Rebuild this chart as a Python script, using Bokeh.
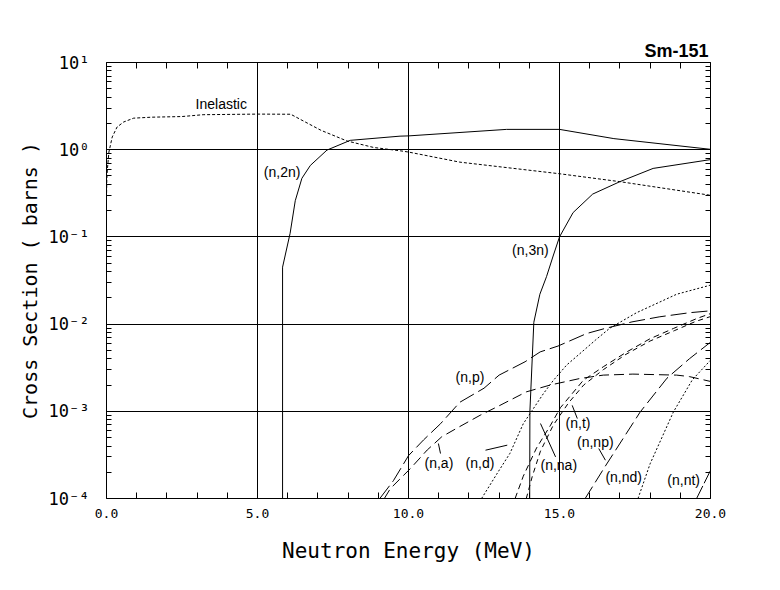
from bokeh.plotting import figure
from bokeh.models import LinearAxis, LogAxis, FixedTicker, CustomJSTickFormatter, Label, Range1d, Title
from bokeh.embed import file_html
from bokeh.resources import INLINE

# ---------------- data ----------------
inel_e = [0.0, 0.01, 0.03, 0.08, 0.19, 0.35, 0.57, 0.9, 1.5, 2.5, 3.2, 5.0, 6.1, 6.58, 7.1, 7.96, 8.85, 9.74, 10.0, 11.7, 15.0, 17.0, 20.0]
inel_xs = [0.28, 0.45, 0.6, 0.94, 1.40, 1.82, 2.08, 2.30, 2.36, 2.40, 2.52, 2.56, 2.55, 2.08, 1.67, 1.26, 1.06, 0.97, 0.94, 0.72, 0.53, 0.43, 0.30]

n2n_e = [5.83, 5.83, 6.08, 6.25, 6.47, 6.75, 7.3, 8.07, 9.72, 10.0, 13.25, 15.0, 16.8, 20.0]
n2n_xs = [1e-6, 0.045, 0.11, 0.26, 0.47, 0.66, 0.99, 1.28, 1.43, 1.44, 1.71, 1.71, 1.34, 1.01]

n3n_e = [14.0, 14.02, 14.15, 14.35, 14.57, 14.8, 15.0, 15.45, 16.1, 17.0, 18.1, 20.0]
n3n_xs = [1e-6, 1.0e-3, 0.0105, 0.022, 0.035, 0.062, 0.10, 0.19, 0.31, 0.43, 0.61, 0.77]

np_e = [9.05, 9.5, 10.0, 10.5, 11.06, 11.7, 12.5, 13.0, 13.86, 14.36, 14.95, 15.9, 16.5, 17.4, 18.3, 19.3, 20.0]
np_xs = [1.0e-4, 1.6e-4, 3.1e-4, 4.7e-4, 7.2e-4, 1.27e-3, 1.84e-3, 2.6e-3, 3.7e-3, 4.8e-3, 5.6e-3, 7.8e-3, 8.9e-3, 0.0106, 0.0121, 0.0135, 0.0142]

na_e = [9.2, 9.4, 10.06, 10.62, 11.1, 11.6, 12.37, 13.03, 13.9, 14.69, 15.68, 16.45, 17.43, 18.88, 19.3, 20.0]
na_xs = [1.0e-4, 1.3e-4, 2.2e-4, 3.6e-4, 5.1e-4, 6.4e-4, 9.0e-4, 1.17e-3, 1.67e-3, 2.0e-3, 2.38e-3, 2.6e-3, 2.67e-3, 2.6e-3, 2.5e-3, 2.2e-3]

nd_e = [12.42, 12.92, 13.36, 13.8, 14.47, 14.8, 15.24, 15.68, 16.2, 16.67, 17.55, 18.88, 20.0]
nd_xs = [1.0e-4, 1.9e-4, 3.3e-4, 7.2e-4, 1.6e-3, 2.27e-3, 3.4e-3, 4.6e-3, 6.6e-3, 9.0e-3, 0.0135, 0.022, 0.028]

nt_e = [13.53, 13.8, 14.24, 14.69, 15.03, 15.79, 16.45, 17.23, 18.0, 18.77, 19.55, 20.0]
nt_xs = [1.0e-4, 1.8e-4, 3.8e-4, 6.8e-4, 1.1e-3, 2.27e-3, 3.24e-3, 4.8e-3, 6.8e-3, 8.9e-3, 0.0116, 0.0132]

nna_e = [13.9, 14.1, 14.37, 14.8, 15.3, 15.8, 16.45, 17.2, 18.0, 18.8, 19.5, 20.0]
nna_xs = [1.0e-4, 1.8e-4, 3.5e-4, 7.0e-4, 1.25e-3, 2.0e-3, 3.0e-3, 4.5e-3, 6.4e-3, 8.4e-3, 0.0107, 0.0122]

nnp_e = [15.85, 16.5, 17.67, 18.56, 19.3, 20.0]
nnp_xs = [1.0e-4, 2.3e-4, 9.8e-4, 2.4e-3, 4.0e-3, 6.2e-3]

nnd_e = [17.6, 18.0, 18.77, 19.4, 20.0]
nnd_xs = [1.0e-4, 2.5e-4, 9.8e-4, 2.3e-3, 3.85e-3]

nnt_e = [19.54, 20.0]
nnt_xs = [1.0e-4, 2.1e-4]

x_ticks = [0, 5, 10, 15, 20]
x_tick_labels = ["0.0", "5.0", "10.0", "15.0", "20.0"]
y_exponents = [1, 0, -1, -2, -3, -4]
y_tick_labels = ["10\u00b9", "10\u2070", "10\u207b\u00b9", "10\u207b\u00b2", "10\u207b\u00b3", "10\u207b\u2074"]

# curve label texts with their anchor (energy, cross section)
label_text = ["Inelastic", "(n,2n)", "(n,3n)", "(n,p)", "(n,a)", "(n,d)", "(n,na)", "(n,t)", "(n,np)", "(n,nd)", "(n,nt)"]
label_e = [2.95, 5.21, 13.43, 11.56, 10.53, 11.89, 14.37, 15.2, 15.58, 16.52, 18.57]
label_xs = [3.33, 0.556, 0.0703, 2.5e-3, 2.52e-4, 2.52e-4, 2.41e-4, 7.4e-4, 4.46e-4, 1.77e-4, 1.62e-4]

# leader lines from labels to curves
lead_e0 = [10.99, 12.55, 14.37, 15.42, 16.30]
lead_e1 = [11.06, 13.27, 14.87, 15.59, 16.52]
lead_xs0 = [4.27e-4, 3.58e-4, 7.24e-4, 1.17e-3, 3.74e-4]
lead_xs1 = [3.28e-4, 4.09e-4, 3.0e-4, 8.26e-4, 2.75e-4]

# ---------------- figure ----------------
p = figure(x_range=Range1d(0, 20), y_range=Range1d(1e-4, 10), y_axis_type="log",
           frame_width=604, frame_height=436,
           min_border_left=106, min_border_right=58, min_border_top=62, min_border_bottom=80,
           output_backend="svg", toolbar_location=None)
p.background_fill_color = "white"
p.border_fill_color = "white"
p.outline_line_color = "black"
p.outline_line_width = 1
p.outline_line_alpha = 1

mono = "DejaVu Sans Mono"
sans = "Liberation Sans"

xt = FixedTicker(ticks=x_ticks, minor_ticks=[float(i) for i in range(1, 20)])
yt_major = [10.0 ** k for k in y_exponents]
yt_minor = [m * 10.0 ** k for k in range(-4, 1) for m in range(2, 10)]
yt = FixedTicker(ticks=yt_major, minor_ticks=yt_minor)
empty = CustomJSTickFormatter(code="return ''")

xa = p.xaxis[0]
xa.ticker = xt
xa.formatter = CustomJSTickFormatter(args=dict(labs=dict(zip([str(t) for t in x_ticks], x_tick_labels))),
                                     code="return labs[String(Math.round(tick))] || ''")
xa.major_tick_in = 0
xa.major_tick_out = 0
xa.minor_tick_in = 6
xa.minor_tick_out = 0
xa.major_label_standoff = 10
xa.major_label_text_font = mono
xa.major_label_text_font_size = "13px"
xa.major_label_text_color = "black"
xa.axis_label = "Neutron Energy (MeV)"
xa.axis_label_text_font = mono
xa.axis_label_text_font_size = "21px"
xa.axis_label_text_font_style = "normal"
xa.axis_label_text_color = "black"
xa.axis_label_standoff = 18
xa.axis_line_color = "black"

ya = p.yaxis[0]
ya.ticker = yt
ya.formatter = CustomJSTickFormatter(
    args=dict(labs=dict(zip([str(k) for k in y_exponents], y_tick_labels))),
    code="return labs[String(Math.round(Math.log10(tick)))] || ''")
ya.major_tick_in = 0
ya.major_tick_out = 0
ya.minor_tick_in = 5
ya.minor_tick_out = 0
ya.major_label_standoff = 17
ya.major_label_text_font = mono
ya.major_label_text_font_size = "17px"
ya.major_label_text_color = "black"
ya.axis_label = "Cross Section ( barns )"
ya.axis_label_text_font = mono
ya.axis_label_text_font_size = "20px"
ya.axis_label_text_font_style = "normal"
ya.axis_label_text_color = "black"
ya.axis_label_standoff = 4
ya.axis_line_color = "black"

top = LinearAxis(ticker=xt, formatter=empty, major_tick_in=0, major_tick_out=0,
                 minor_tick_in=6, minor_tick_out=0, major_label_standoff=0, axis_line_color="black")
p.add_layout(top, "above")
right = LogAxis(ticker=yt, formatter=empty, major_tick_in=0, major_tick_out=0,
                minor_tick_in=5, minor_tick_out=0, major_label_standoff=0, axis_line_color="black")
p.add_layout(right, "right")

p.add_layout(Title(text="Sm-151", align="right", text_font="Liberation Sans", text_font_size="18px",
                   text_font_style="bold", text_color="black", offset=2, standoff=4), "above")

p.xgrid.ticker = FixedTicker(ticks=[5, 10, 15])
p.ygrid.ticker = FixedTicker(ticks=[1e-3, 1e-2, 1e-1, 1.0])
for g in (p.xgrid[0], p.ygrid[0]):
    g.grid_line_color = "black"
    g.grid_line_alpha = 1
    g.grid_line_width = 1

# ---------------- curves ----------------
curves = [
    (inel_e, inel_xs, "3 2"),
    (n2n_e, n2n_xs, "solid"),
    (n3n_e, n3n_xs, "solid"),
    (np_e, np_xs, "16 5"),
    (na_e, na_xs, "10 5"),
    (nd_e, nd_xs, "2 2"),
    (nt_e, nt_xs, "6 4"),
    (nna_e, nna_xs, "5 4"),
    (nnp_e, nnp_xs, "14 5"),
    (nnd_e, nnd_xs, "2 2"),
    (nnt_e, nnt_xs, "14 3"),
]
for xs, ys, dash in curves:
    p.line(xs, ys, line_color="black", line_width=1, line_dash=dash)

p.segment(x0=lead_e0, y0=lead_xs0, x1=lead_e1, y1=lead_xs1, line_color="black", line_width=1)

for t, e, s in zip(label_text, label_e, label_xs):
    p.add_layout(Label(x=e, y=s, text=t, text_font=sans, text_font_size="14px",
                       text_baseline="middle", text_align="left", text_color="black"))

open("out.html", "w").write(file_html(p, INLINE))
